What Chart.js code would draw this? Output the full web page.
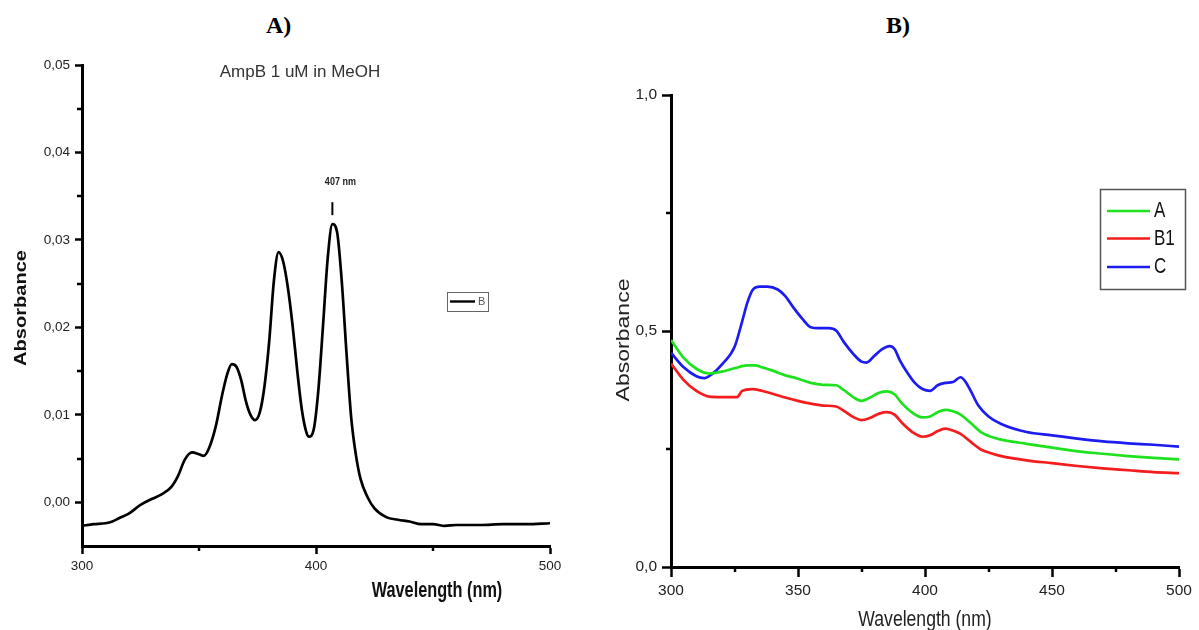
<!DOCTYPE html>
<html>
<head>
<meta charset="utf-8">
<script src="https://cdn.jsdelivr.net/npm/chart.js@4.4.0/dist/chart.umd.min.js"></script>
<style>
  html, body { margin: 0; background: #fff; }
  #wrap { position: relative; width: 1199px; height: 630px; overflow: hidden; }
  canvas { position: absolute; top: 0; }
  #ca { left: 0; }
  #cb { left: 600px; }
  .tag { position: absolute; top: 12px; font: bold 24px "Liberation Serif", "DejaVu Serif", serif; color: #000; }
</style>
</head>
<body>
<div id="wrap">
  <div class="tag" style="left:266px">A)</div>
  <div class="tag" style="left:886px">B)</div>
  <canvas id="ca" width="600" height="630"></canvas>
  <canvas id="cb" width="599" height="630"></canvas>
</div>
<script>
// ---- panel A: AmpB 1 uM in MeOH ----
const wlAmpB = [300,305,310,313,316,320,325,330,334,338,341,344,347,350,352,354,357,360,362,364,
  366,368,370,372,374,376,378,380,382,384,386,388,390,392,394,396,397,399,401,403,
  405,407,409,411,413,415,417,419,422,425,430,435,440,445,450,455,460,470,480,490,500];
const absAmpB = [-0.0027,-0.0025,-0.0024,-0.0022,-0.0018,-0.0013,-0.0003,0.0004,0.0009,0.0017,
  0.0030,0.0049,0.0057,0.0055,0.0053,0.0060,0.0085,0.0124,0.0146,0.0158,
  0.0155,0.0140,0.0116,0.0100,0.0094,0.0103,0.0133,0.0184,0.0253,0.0286,
  0.0275,0.0245,0.0202,0.0150,0.0105,0.0079,0.0075,0.0083,0.0128,0.0202,
  0.0279,0.0318,0.0309,0.0253,0.0172,0.0098,0.0055,0.0027,0.0006,-0.0007,
  -0.0017,-0.0020,-0.0022,-0.0025,-0.0025,-0.0027,-0.0026,-0.0026,-0.0025,-0.0025,-0.0024];
const peakNm = 407;
const xTicksA = [300, 400, 500];
const xMinorA = [350, 450];
const yTicksA = [0, 0.01, 0.02, 0.03, 0.04, 0.05];
const yMinorA = [0.005, 0.015, 0.025, 0.035, 0.045];

// ---- panel B: samples A, B1, C ----
const wlA = [300,305,310,315,320,325,330,333,336,340,345,350,355,360,365,368,372,375,378,382,
  385,388,391,395,399,402,405,408,411,414,418,422,426,430,440,450,460,470,480,490,500];
const absA = [0.481,0.443,0.420,0.410,0.414,0.421,0.427,0.427,0.423,0.416,
  0.406,0.399,0.390,0.386,0.385,0.375,0.359,0.352,0.358,0.369,
  0.372,0.366,0.346,0.327,0.317,0.319,0.328,0.333,0.330,0.323,
  0.305,0.286,0.276,0.270,0.261,0.253,0.245,0.240,0.235,0.231,0.228];
const wlB1 = [300,305,310,315,320,326,328,332,336,340,345,350,355,360,365,368,372,375,378,382,
  385,388,391,395,399,402,405,408,411,414,418,422,426,430,440,450,460,470,480,490,500];
const absB1 = [0.431,0.396,0.373,0.361,0.360,0.360,0.373,0.377,0.373,0.367,
  0.359,0.352,0.346,0.342,0.340,0.331,0.317,0.311,0.315,0.325,
  0.328,0.323,0.305,0.286,0.276,0.279,0.288,0.293,0.289,0.282,
  0.265,0.249,0.241,0.235,0.226,0.220,0.214,0.209,0.205,0.201,0.199];
const wlC = [300,305,310,313,316,320,325,328,330,332,335,338,342,345,348,352,355,358,362,365,
  368,372,375,377,380,383,386,388,390,393,396,399,402,405,408,411,414,416,418,421,
  425,430,440,450,460,470,480,490,500];
const absC = [0.454,0.423,0.404,0.400,0.408,0.429,0.466,0.520,0.559,0.586,
  0.594,0.594,0.588,0.574,0.551,0.524,0.508,0.506,0.506,0.501,
  0.477,0.450,0.435,0.433,0.447,0.461,0.468,0.462,0.439,0.412,
  0.390,0.377,0.373,0.385,0.390,0.392,0.402,0.392,0.373,0.342,
  0.319,0.303,0.286,0.279,0.272,0.266,0.262,0.259,0.255];
const xTicksB = [300, 350, 400, 450, 500];
const xMinorB = [325, 375, 425, 475];
const yTicksB = [0, 0.5, 1.0];
const yMinorB = [0.25, 0.75];

const pts = (xs, ys) => xs.map((x, i) => ({ x, y: ys[i] }));
const comma = (v, d) => v.toFixed(d).replace('.', ',');

function drawText(ctx, t) {
  ctx.save();
  ctx.translate(t.x, t.y);
  if (t.rot) ctx.rotate(t.rot * Math.PI / 180);
  ctx.scale(t.sx || 1, t.sy || 1);
  ctx.font = t.font;
  ctx.fillStyle = t.color || '#000';
  ctx.textAlign = t.align || 'center';
  ctx.textBaseline = 'middle';
  ctx.fillText(t.text, 0, 0);
  ctx.restore();
}

// minor ticks, free text, peak marker and boxed legend
const decor = {
  id: 'decor',
  afterDraw(chart, args, o) {
    const { ctx } = chart;
    const xs = chart.scales.x, ys = chart.scales.y;
    ctx.save();
    ctx.strokeStyle = '#000';
    ctx.lineWidth = o.minorWidth;
    ctx.beginPath();
    o.minorX.forEach(v => {
      const px = Math.round(xs.getPixelForValue(v));
      ctx.moveTo(px, xs.top); ctx.lineTo(px, xs.top + o.minorLen);
    });
    o.minorY.forEach(v => {
      const py = Math.round(ys.getPixelForValue(v));
      ctx.moveTo(ys.right, py); ctx.lineTo(ys.right - o.minorLen, py);
    });
    ctx.stroke();

    (o.texts || []).forEach(t => drawText(ctx, t));

    if (o.peak) {
      const p = o.peak;
      const px = xs.getPixelForValue(p.x), py = ys.getPixelForValue(p.y);
      ctx.lineWidth = 2;
      ctx.beginPath();
      ctx.moveTo(px, py - 9); ctx.lineTo(px, py - 22);
      ctx.stroke();
      drawText(ctx, { text: p.text, x: px + 8, y: py - 42, font: 'bold 10px "Liberation Sans", Arial', color: '#222', sx: 0.9 });
    }

    if (o.legend) {
      const L = o.legend;
      ctx.strokeStyle = L.border;
      ctx.lineWidth = L.borderWidth;
      ctx.strokeRect(L.x + 0.5, L.y + 0.5, L.w, L.h);
      chart.data.datasets.forEach((ds, i) => {
        const y = L.y + L.rows[i];
        ctx.strokeStyle = ds.borderColor;
        ctx.lineWidth = L.lineWidth;
        ctx.beginPath();
        ctx.moveTo(L.x + L.line[0], y); ctx.lineTo(L.x + L.line[1], y);
        ctx.stroke();
        drawText(ctx, { text: ds.label, x: L.x + L.tx, y, font: L.font, color: L.color, align: 'left', sy: L.sy });
      });
    }
    ctx.restore();
  }
};

function makePanel(id, cfg) {
  return new Chart(document.getElementById(id), {
    type: 'line',
    data: { datasets: cfg.datasets },
    options: {
      responsive: false,
      animation: false,
      devicePixelRatio: 1,
      layout: { padding: cfg.padding },
      elements: {
        line: { borderWidth: 2.7, cubicInterpolationMode: 'monotone' },
        point: { radius: 0 },
      },
      plugins: {
        legend: { display: false },
        tooltip: { enabled: false },
        decor: cfg.decor,
      },
      scales: {
        x: {
          type: 'linear',
          min: 300, max: 500,
          afterBuildTicks: s => { s.ticks = cfg.xTicks.map(v => ({ value: v })); },
          afterFit: s => { s.height = cfg.xHeight; },
          grid: { drawOnChartArea: false, tickLength: cfg.tickLen, tickColor: '#000', tickWidth: 2.5 },
          border: { color: '#000', width: 3 },
          ticks: {
            color: '#222', padding: cfg.xPad, maxRotation: 0, autoSkip: false,
            font: { family: '"Liberation Sans", Arial', size: cfg.tickSize },
            callback: v => String(v),
          },
        },
        y: {
          min: cfg.yMin, max: cfg.yMax,
          afterBuildTicks: s => { s.ticks = cfg.yTicks.map(v => ({ value: v })); },
          afterFit: s => { s.width = cfg.yWidth; },
          grid: { drawOnChartArea: false, tickLength: cfg.tickLen - 1, tickColor: '#000', tickWidth: 2.5 },
          border: { color: '#000', width: 3 },
          ticks: {
            color: '#222', padding: 5, autoSkip: false,
            font: { family: '"Liberation Sans", Arial', size: cfg.tickSize },
            callback: v => comma(v, cfg.yDigits),
          },
        },
      },
    },
    plugins: [decor],
  });
}

makePanel('ca', {
  datasets: [
    { label: 'B', data: pts(wlAmpB, absAmpB), borderColor: '#000' },
  ],
  padding: { top: 65, right: 50, bottom: 0, left: 0 },
  xHeight: 84, yWidth: 82,
  yMin: -0.005, yMax: 0.05, yDigits: 2,
  xTicks: xTicksA, yTicks: yTicksA,
  tickLen: 8, tickSize: 13.5, xPad: 4,
  decor: {
    minorX: xMinorA, minorY: yMinorA, minorLen: 5, minorWidth: 2.5,
    peak: { x: peakNm, y: absAmpB[wlAmpB.indexOf(peakNm)], text: peakNm + ' nm' },
    texts: [
      { text: 'AmpB 1 uM in MeOH', x: 300, y: 72, font: '17px "Liberation Sans", Arial', color: '#333' },
      { text: 'Absorbance', x: 21, y: 308, rot: -90, sx: 1.18, font: 'bold 17px "Liberation Sans", Arial', color: '#111' },
      { text: 'Wavelength (nm)', x: 437, y: 591, sy: 1.3, font: 'bold 16.3px "Liberation Sans", Arial', color: '#111' },
    ],
    legend: {
      x: 447, y: 292, w: 41, h: 19, border: '#666', borderWidth: 1,
      rows: [9.5], line: [3, 28], tx: 31, lineWidth: 2.4,
      font: '11px "Liberation Sans", Arial', color: '#555', sy: 1,
    },
  },
});

makePanel('cb', {
  datasets: [
    { label: 'A', data: pts(wlA, absA), borderColor: '#1de21d' },
    { label: 'B1', data: pts(wlB1, absB1), borderColor: '#f41c1c' },
    { label: 'C', data: pts(wlC, absC), borderColor: '#1c1cf2' },
  ],
  padding: { top: 95, right: 20, bottom: 0, left: 0 },
  xHeight: 63, yWidth: 71,
  yMin: 0, yMax: 1.0, yDigits: 1,
  xTicks: xTicksB, yTicks: yTicksB,
  tickLen: 10, tickSize: 15.5, xPad: 4,
  decor: {
    minorX: xMinorB, minorY: yMinorB, minorLen: 5, minorWidth: 2.5,
    texts: [
      { text: 'Absorbance', x: 24, y: 340, rot: -90, sx: 1.28, font: '18px "Liberation Sans", Arial', color: '#222' },
      { text: 'Wavelength (nm)', x: 325, y: 620, sy: 1.28, font: '17.6px "Liberation Sans", Arial', color: '#222' },
    ],
    legend: {
      x: 500, y: 189, w: 85, h: 100, border: '#555', borderWidth: 1.5,
      rows: [22, 49.5, 78], line: [7, 50], tx: 54, lineWidth: 2.6,
      font: '17px "Liberation Sans", Arial', color: '#111', sy: 1.3,
    },
  },
});
</script>
</body>
</html>
